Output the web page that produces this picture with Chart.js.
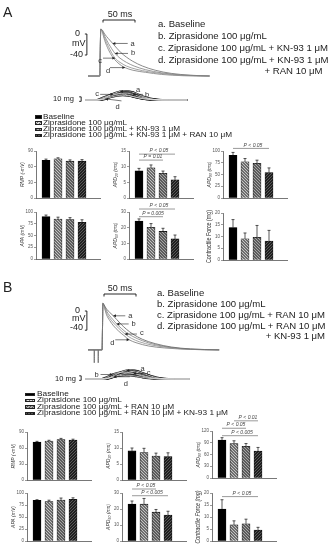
<!DOCTYPE html>
<html>
<head>
<meta charset="utf-8">
<script src="https://cdn.jsdelivr.net/npm/chart.js@4.4.1/dist/chart.umd.min.js"></script>
<style>
  body { margin: 0; background: #fff; font-family: "Liberation Sans", Arial, sans-serif; color: #222; }
  #fig { position: relative; width: 332px; height: 550px; overflow: hidden; filter: grayscale(1); }
  .t { position: absolute; white-space: nowrap; line-height: 1; will-change: transform; }
  .sw { position: absolute; box-sizing: border-box; border: 0.5px solid #222; }
  canvas { position: absolute; }
</style>
</head>
<body>
<div id="fig"></div>
<script>
/* ---- labels ---- */
const traceLegendA = ['a. Baseline', 'b. Ziprasidone 100 μg/mL', 'c. Ziprasidone 100 μg/mL + KN-93 1 μM',
  'd. Ziprasidone 100 μg/mL + KN-93 1 μM', '+ RAN 10 μM'];
const traceLegendB = ['a. Baseline', 'b. Ziprasidone 100 μg/mL', 'c. Ziprasidone 100 μg/mL + RAN 10 μM',
  'd. Ziprasidone 100 μg/mL + RAN 10 μM', '+ KN-93 1 μM'];
const barLegendA = ['Baseline', 'Ziprasidone 100 μg/mL', 'Ziprasidone 100 μg/mL + KN-93 1 μM',
  'Ziprasidone 100 μg/mL + KN-93 1 μM + RAN 10 μM'];
const barLegendB = ['Baseline', 'Ziprasidone 100 μg/mL', 'Ziprasidone 100 μg/mL + RAN 10 μM',
  'Ziprasidone 100 μg/mL + RAN 10 μM + KN-93 1 μM'];
const traceLetters = ['a', 'b', 'c', 'd'];

/* ---- bar data, panel A ---- */
const rmpA = [72, 75, 70.5, 70.5];       const rmpAErr = [2.5, 2, 2.5, 3];
const apd20A = [8.7, 9.6, 7.9, 5.8];     const apd20AErr = [0.75, 0.95, 0.7, 1.0];
const apd90A = [91, 77, 74, 54];         const apd90AErr = [6, 7, 6.5, 10];
const apaA = [90, 85, 84, 78];           const apaAErr = [3.5, 4, 4, 5.5];
const apd50A = [24.2, 20.2, 17.6, 12.8]; const apd50AErr = [1.4, 2.4, 2.0, 2.5];
const forceA = [13.8, 9.0, 9.7, 8.1];    const forceAErr = [3.4, 2.5, 5.0, 4.5];

/* ---- bar data, panel B ---- */
const rmpB = [71, 73, 76, 75];           const rmpBErr = [1.5, 1.5, 2, 1.5];
const apd20B = [9.1, 8.6, 7.5, 7.3];     const apd20BErr = [0.9, 1.3, 0.9, 1.2];
const apd90B = [97, 88, 81, 69];         const apd90BErr = [6, 7, 7, 9];
const apaB = [84.5, 82, 85.5, 87];       const apaBErr = [1.5, 3, 4, 3];
const apd50B = [23, 23, 18, 16.2];       const apd50BErr = [2, 3.6, 1.7, 2.4];
const forceB = [13.3, 6.7, 7.2, 4.6];    const forceBErr = [3.9, 1.7, 1.9, 1.1];

/* ---- action potential traces [ms, mV] ---- */
const apA_a = [[0,-80],[18.5,-80],[19,-40],[20,9],[22,8],[26,0],[32,-9],[38.6,-18],[45,-27],[52,-36],[60,-44],[70,-52],[85,-61],[105,-69],[130,-75],[160,-78.5],[190,-80]];
const apA_b = [[0,-80],[18.5,-80],[19,-40],[20,9],[22,7],[26,-4],[32,-18],[37,-28],[42.2,-37],[50,-46],[60,-54],[72,-61],[90,-68],[115,-74],[145,-78],[190,-80]];
const apA_c = [[0,-80],[18.5,-80],[19,-40],[20,9],[22,6],[26,-8],[32,-24],[37,-36],[42.2,-46],[50,-54],[60,-61],[75,-67],[95,-72],[120,-76],[150,-79],[190,-80]];
const apA_d = [[0,-80],[18.5,-80],[19,-40],[20,9],[22,5],[26,-12],[32,-30],[38,-43],[45,-53],[52,-60],[57.8,-64],[70,-69],[90,-73],[115,-77],[150,-79.5],[190,-80]];

const apB_a = [[0,-81],[9.7,-81],[9.8,-108],[10,-81],[15.9,-81],[16,-108],[16.2,-81],[22,-81],[22.6,-40],[23.3,16],[25,13],[29,4],[34,-3],[39.5,-10],[45,-18],[52,-28],[60,-38],[70,-48],[85,-59],[105,-68],[130,-75],[160,-79],[205,-81]];
const apB_b = [[0,-81],[22,-81],[22.6,-40],[23.3,16],[25,12],[29,0],[34,-10],[39,-18],[44.8,-27],[52,-36],[60,-45],[70,-53],[85,-62],[105,-70],[130,-76],[160,-79.5],[205,-81]];
const apB_c = [[0,-81],[22,-81],[22.6,-40],[23.3,16],[25,11],[29,-4],[34,-15],[40,-25],[48,-36],[57.8,-48],[68,-57],[80,-64],[100,-71],[125,-76],[160,-80],[205,-81]];
const apB_d = [[0,-81],[22,-81],[22.6,-40],[23.3,16],[25,10],[29,-8],[34,-20],[40,-31],[48,-42],[56,-51],[64.5,-60],[75,-66],[95,-73],[120,-77],[160,-80],[205,-81]];

/* ---- contraction traces [ms, mg] ---- */
const ctA_a = [[0,0],[20,0],[28,3],[37,9],[46,15],[55,19],[64,20],[73,18],[82,13],[92,7],[102,3],[114,0.5],[130,0],[160,0]];
const ctA_b = [[0,0],[22,0],[30,3],[39,8],[48,12.5],[57,15],[66,15],[75,12.5],[84,8],[94,4],[104,1.5],[118,0],[160,0]];
const ctA_c = [[0,0],[18,0],[26,4],[35,9],[44,12.5],[53,13.5],[62,12.5],[71,9.5],[80,6],[90,3],[102,1],[116,0],[160,0]];
const ctA_d = [[0,0],[23,0],[32,2.5],[41,6.5],[50,9.5],[59,10.5],[68,9.5],[77,7],[86,4],[96,2],[106,0.5],[118,0],[160,0]];

const ctB_a = [[0,0],[30,0],[38,3],[47,9],[56,15],[65,19],[74,19.5],[83,17],[92,12],[102,7],[112,3],[124,0.5],[140,0],[164,0]];
const ctB_b = [[0,0],[26,0],[34,4],[43,10],[52,14],[61,15],[70,14],[79,11],[88,7],[98,3.5],[108,1],[122,0],[164,0]];
const ctB_c = [[0,0],[32,0],[40,2.5],[49,7],[58,11],[67,13],[76,12.5],[85,10],[94,6.5],[104,3],[114,1],[128,0],[164,0]];
const ctB_d = [[0,0],[28,0],[36,2],[45,5],[54,7.5],[63,8.5],[72,8],[81,6],[90,3.5],[100,1.5],[110,0.3],[122,0],[164,0]];

Chart.defaults.font.family = '"Liberation Sans", Arial, sans-serif';
const fig = document.getElementById('fig');

function mkCanvas(l, t, w, h) {
    const c = document.createElement('canvas');
    c.width = w; c.height = h;
    c.style.cssText = `left:${l}px;top:${t}px;width:${w}px;height:${h}px`;
    fig.appendChild(c);
    return c;
}

function txt(s, x, y, size, align) {
    const d = document.createElement('div');
    d.className = 't';
    d.textContent = s;
    d.style.fontSize = size + 'px';
    d.style.top = (y - size * 0.5) + 'px';
    if (align === 'right') { d.style.right = (332 - x) + 'px'; d.style.transformOrigin = 'right center'; }
    else if (align === 'center') { d.style.left = x + 'px'; d.style.transform = 'translateX(-50%)'; }
    else { d.style.left = x + 'px'; d.style.transformOrigin = 'left center'; }
    fig.appendChild(d);
    return d;
}

// squeeze a group of lines so that the reference line gets the wanted width
function fitGroup(els, ref, width) {
    const s = width / ref.getBoundingClientRect().width;
    els.forEach(e => { e.style.transform = `scaleX(${s})`; });
}

/* ---- fills ---- */
function makePattern(bg, fg, dir) {
    const c = document.createElement('canvas');
    c.width = c.height = 3;
    const x = c.getContext('2d');
    x.fillStyle = bg; x.fillRect(0, 0, 3, 3);
    x.fillStyle = fg;
    for (let i = 0; i < 3; i++) x.fillRect(dir > 0 ? 2 - i : i, i, 1, 1);
    return x.createPattern(c, 'repeat');
}
const barFills = ['#000', makePattern('#6e6e6e', '#c4c4c4', -1), makePattern('#5c5c5c', '#a6a6a6', -1), makePattern('#202020', '#585858', 1)];
const swatchCss = ['#000',
    'repeating-linear-gradient(-45deg,#ddd 0 1px,#777 1px 2px)',
    'repeating-linear-gradient(-45deg,#aaa 0 1px,#555 1px 2px)',
    'repeating-linear-gradient(45deg,#555 0 1px,#1a1a1a 1px 2px)'];

function swatch(x, y, w, h, k) {
    const d = document.createElement('div');
    d.className = 'sw';
    d.style.cssText = `left:${x}px;top:${y - h / 2}px;width:${w}px;height:${h}px;background:${swatchCss[k]}`;
    fig.appendChild(d);
}

function arrow(ctx, x1, y1, x2, y2) {
    ctx.beginPath(); ctx.moveTo(x1, y1); ctx.lineTo(x2, y2); ctx.stroke();
    const a = Math.atan2(y2 - y1, x2 - x1), L = 3;
    ctx.beginPath();
    ctx.moveTo(x2, y2);
    ctx.lineTo(x2 - L * Math.cos(a - 0.5), y2 - L * Math.sin(a - 0.5));
    ctx.lineTo(x2 - L * Math.cos(a + 0.5), y2 - L * Math.sin(a + 0.5));
    ctx.closePath(); ctx.fill();
}

/* ---- bar chart with error bars + P brackets ---- */
function barChart(o) {
    const AXW = 18, PADT = 22, PADB = 10, LEN = 64;
    const cv = mkCanvas(o.x0 - AXW, o.yTop - PADT, AXW + LEN + 1, PADT + (o.yBot - o.yTop) + PADB);
    const overlay = {
        id: 'overlay',
        afterDraw(chart) {
            const ctx = chart.ctx, ys = chart.scales.y, area = chart.chartArea;
            const bars = chart.getDatasetMeta(0).data;
            ctx.save();
            ctx.strokeStyle = '#111'; ctx.lineWidth = 0.7;
            bars.forEach((b, i) => {
                const yt = ys.getPixelForValue(o.vals[i] + o.errs[i]);
                ctx.beginPath();
                ctx.moveTo(b.x, b.y); ctx.lineTo(b.x, yt);
                ctx.moveTo(b.x - 1.5, yt); ctx.lineTo(b.x + 1.5, yt);
                ctx.stroke();
            });
            ctx.strokeStyle = '#555'; ctx.lineWidth = 0.6; ctx.fillStyle = '#444';
            ctx.font = 'italic 5px "Liberation Sans"';
            ctx.textAlign = 'center'; ctx.textBaseline = 'bottom';
            (o.sig || []).forEach(s => {
                const y = ys.getPixelForValue(s[2]);
                const xa = bars[s[0]].x, xb = bars[s[1]].x;
                ctx.beginPath(); ctx.moveTo(xa, y); ctx.lineTo(xb, y); ctx.stroke();
                ctx.fillText(s[3], (xa + xb) / 2 + 2, y - 0.8);
            });
            ctx.translate(area.left - (o.titleOff || 13), (area.top + area.bottom) / 2);
            ctx.rotate(-Math.PI / 2);
            ctx.fillStyle = '#333';
            ctx.font = o.titleFont || 'italic 5px "Liberation Sans"';
            ctx.textBaseline = 'middle';
            if (o.titleLen) ctx.scale(o.titleLen / ctx.measureText(o.title).width, 1);
            ctx.fillText(o.title, 0, 0);
            ctx.restore();
        }
    };
    new Chart(cv, {
        type: 'bar',
        data: {
            datasets: [{
                data: o.vals.map((v, i) => ({ x: i + 1, y: v })),
                backgroundColor: barFills,
                borderColor: '#000',
                borderWidth: 0.6,
                barThickness: 8
            }]
        },
        options: {
            responsive: false, animation: false, events: [],
            layout: { padding: { top: PADT, bottom: PADB, left: 0, right: 1 } },
            plugins: { legend: { display: false }, tooltip: { enabled: false } },
            scales: {
                x: {
                    type: 'linear', min: 1 - 10 / 12, max: 1 - 10 / 12 + LEN / 12, offset: false,
                    grid: { display: false, offset: false }, ticks: { display: false },
                    border: { display: true, color: '#555', width: 0.8 },
                    afterFit: s => { s.height = 0; }
                },
                y: {
                    min: 0, max: o.max,
                    ticks: { stepSize: o.step, font: { size: 4.5 }, color: '#555', padding: 1 },
                    grid: { drawOnChartArea: false, tickLength: 2, color: '#555', lineWidth: 0.6 },
                    border: { display: true, color: '#555', width: 0.8 },
                    afterFit: s => { s.width = AXW; }
                }
            }
        },
        plugins: [overlay]
    });
}

/* ---- trace chart (AP or contraction) ---- */
function traceChart(o) {
    const cv = mkCanvas(o.left, o.top, o.w, o.h);
    const datasets = [], idx = [];
    o.traces.forEach((tr, k) => {
        const pts = tr.map(p => ({ x: p[0], y: p[1] }));
        if (o.outline) datasets.push({ data: pts, borderColor: o.outline, borderWidth: 2.1, order: 2 });
        idx.push(datasets.length);
        datasets.push({ data: pts, borderColor: o.colors[k], borderWidth: o.lw, order: 1 });
    });
    const marks = {
        id: 'marks',
        afterDraw(chart) {
            const ctx = chart.ctx, xs = chart.scales.x, ys = chart.scales.y;
            ctx.save();
            ctx.strokeStyle = '#111'; ctx.fillStyle = '#111'; ctx.lineWidth = 0.9;
            if (o.hbar) {
                const [t0, t1, v] = o.hbar;
                const a = xs.getPixelForValue(t0), b = xs.getPixelForValue(t1), y = ys.getPixelForValue(v);
                ctx.beginPath();
                ctx.moveTo(a, y + 2.5); ctx.lineTo(a, y); ctx.lineTo(b, y); ctx.lineTo(b, y + 2.5);
                ctx.stroke();
            }
            if (o.vbar) {
                const [t, v0, v1] = o.vbar;
                const x = xs.getPixelForValue(t), y0 = ys.getPixelForValue(v0), y1 = ys.getPixelForValue(v1);
                ctx.beginPath();
                ctx.moveTo(x - 2, y0); ctx.lineTo(x, y0); ctx.lineTo(x, y1); ctx.lineTo(x - 2, y1);
                ctx.stroke();
            }
            ctx.lineWidth = 0.6; ctx.strokeStyle = '#222'; ctx.fillStyle = '#222';
            ctx.font = '7.5px "Liberation Sans"';
            ctx.textAlign = 'center'; ctx.textBaseline = 'middle';
            o.arrows.forEach(ar => {
                const p = chart.getDatasetMeta(idx[ar.k]).data[ar.i];
                const tx = p.x + ar.dx, ty = p.y + (ar.dy || 0);
                arrow(ctx, tx, ty, p.x, p.y);
                ctx.fillStyle = '#333';
                ctx.fillText(traceLetters[ar.k], tx + ar.lx, ty + ar.ly);
                ctx.fillStyle = '#222';
            });
            ctx.restore();
        }
    };
    new Chart(cv, {
        type: 'line',
        data: { datasets },
        options: {
            responsive: false, animation: false, events: [],
            layout: { padding: 0 },
            elements: { point: { radius: 0 }, line: { cubicInterpolationMode: 'monotone', fill: false } },
            plugins: { legend: { display: false }, tooltip: { enabled: false } },
            scales: {
                x: { type: 'linear', display: false, min: o.xmin, max: o.xmax },
                y: { type: 'linear', display: false, min: o.ymin, max: o.ymax }
            }
        },
        plugins: [marks]
    });
}

/* ============ PANEL A ============ */
txt('A', 3, 12, 14);
txt('50 ms', 119.5, 14, 9, 'center');
txt('0', 80, 33, 9, 'right');
txt('mV', 85, 43, 9, 'right');
txt('-40', 83, 54, 9, 'right');
const legA = [24, 36, 48, 60].map((y, i) => txt(traceLegendA[i], 158, y, 9.5));
legA.push(txt(traceLegendA[4], 322, 71, 9.5, 'right'));
fitGroup(legA, legA[2], 170);
txt('10 mg', 53, 99, 7.5);

traceChart({
    left: 60, top: 8, w: 160, h: 75,
    xmin: (60 - 88) / 0.64, xmax: (220 - 88) / 0.64,
    ymin: (34 - 83) / 0.525, ymax: (34 - 8) / 0.525,
    traces: [apA_a, apA_b, apA_c, apA_d],
    colors: ['#7d7d7d', '#8c8c8c', '#999', '#8a8a8a'], lw: 0.9,
    hbar: [(103 - 88) / 0.64, (103 - 88) / 0.64 + 50, (34 - 20) / 0.525],
    vbar: [(86.5 - 88) / 0.64 + 0.6, 0, -40],
    arrows: [
        { k: 0, i: 7, dx: 15, lx: 5, ly: 0 },
        { k: 1, i: 8, dx: 13, lx: 5, ly: 0 },
        { k: 2, i: 8, dx: -12, lx: -3, ly: 3 },
        { k: 3, i: 10, dx: -15, lx: -2, ly: 3 }
    ]
});

traceChart({
    left: 75, top: 84, w: 120, h: 28,
    xmin: (75 - 85) / 0.64, xmax: (195 - 85) / 0.64,
    ymin: (100 - 112) / 0.45, ymax: (100 - 84) / 0.45,
    traces: [ctA_a, ctA_b, ctA_c, ctA_d],
    colors: ['#e6e6e6', '#d8d8d8', '#cfcfcf', '#e0e0e0'], lw: 0.8, outline: '#111',
    vbar: [-6, -3, 7],
    arrows: [
        { k: 0, i: 5, dx: 14, lx: 4, ly: -2 },
        { k: 1, i: 7, dx: 10, lx: 4, ly: 1 },
        { k: 2, i: 4, dx: -13, lx: -3, ly: 0 },
        { k: 3, i: 2, dx: 16, dy: 2, lx: -4, ly: 6 }
    ]
});

const barLegA = [117, 123.2, 129.4, 135.6].map((y, i) => {
    swatch(35, y, 7, 3.5, i);
    return txt(barLegendA[i], 43, y, 6.8);
});
fitGroup(barLegA, barLegA[3], 189);

barChart({ x0: 36, yTop: 151, yBot: 198, vals: rmpA, errs: rmpAErr, max: 90, step: 30, title: 'RMP (-mV)' });
barChart({ x0: 129, yTop: 151, yBot: 198, vals: apd20A, errs: apd20AErr, max: 15, step: 5, title: 'APD₂₀ (ms)',
    sig: [[0, 3, 14.0, 'P < 0.05'], [0, 2, 12.1, 'P = 0.01']] });
barChart({ x0: 223, yTop: 151, yBot: 198, vals: apd90A, errs: apd90AErr, max: 100, step: 25, title: 'APD₉₀ (ms)',
    sig: [[0, 3, 105.5, 'P < 0.05']] });
barChart({ x0: 36, yTop: 212, yBot: 259, vals: apaA, errs: apaAErr, max: 100, step: 25, title: 'APA (mV)' });
barChart({ x0: 129, yTop: 212, yBot: 259, vals: apd50A, errs: apd50AErr, max: 30, step: 10, title: 'APD₅₀ (ms)',
    sig: [[0, 3, 31.9, 'P < 0.05'], [0, 2, 27.0, 'P = 0.005']] });
barChart({ x0: 223, yTop: 213, yBot: 260, vals: forceA, errs: forceAErr, max: 20, step: 5, title: 'Contractile Force (mg)',
    titleFont: '7px "Liberation Sans"', titleOff: 14, titleLen: 53 });

/* ============ PANEL B ============ */
txt('B', 3, 287, 14);
txt('50 ms', 120, 288, 9, 'center');
txt('0', 80, 310, 9, 'right');
txt('mV', 85, 318.5, 9, 'right');
txt('-40', 83, 327.5, 9, 'right');
const legB = [293, 304, 315, 326].map((y, i) => txt(traceLegendB[i], 157, y, 9.5));
legB.push(txt(traceLegendB[4], 325, 336, 9.5, 'right'));
fitGroup(legB, legB[2], 168);
txt('10 mg', 55, 378.5, 7.5);

traceChart({
    left: 60, top: 285, w: 165, h: 85,
    xmin: (60 - 88) / 0.64, xmax: (225 - 88) / 0.64,
    ymin: (311 - 370) / 0.48, ymax: (311 - 285) / 0.48,
    traces: [apB_a, apB_b, apB_c, apB_d],
    colors: ['#6f6f6f', '#8c8c8c', '#9a9a9a', '#858585'], lw: 0.9,
    hbar: [(104 - 88) / 0.64, (104 - 88) / 0.64 + 50, (311 - 294) / 0.48],
    vbar: [(86.5 - 88) / 0.64 + 0.6, 0, -40],
    arrows: [
        { k: 0, i: 13, dx: 12, lx: 5, ly: 0 },
        { k: 1, i: 8, dx: 12, lx: 5, ly: 0 },
        { k: 2, i: 9, dx: 12, lx: 5, ly: -1 },
        { k: 3, i: 10, dx: -14, lx: -3, ly: 3 }
    ]
});

traceChart({
    left: 75, top: 360, w: 120, h: 30,
    xmin: (75 - 85) / 0.64, xmax: (195 - 85) / 0.64,
    ymin: (379 - 390) / 0.45, ymax: (379 - 360) / 0.45,
    traces: [ctB_a, ctB_b, ctB_c, ctB_d],
    colors: ['#e6e6e6', '#d8d8d8', '#cfcfcf', '#e0e0e0'], lw: 0.8, outline: '#111',
    vbar: [-6, -3, 7],
    arrows: [
        { k: 0, i: 5, dx: 12, lx: 4, ly: -2 },
        { k: 1, i: 3, dx: -12, lx: -4, ly: 0 },
        { k: 2, i: 6, dx: 11, lx: 4, ly: 0 },
        { k: 3, i: 3, dx: 16, lx: -4, ly: 7 }
    ]
});

const barLegB = [394.3, 400.7, 407, 413.3].map((y, i) => {
    swatch(25, y, 10, 3.5, i);
    return txt(barLegendB[i], 37, y, 6.8);
});
fitGroup(barLegB, barLegB[3], 191);

barChart({ x0: 27, yTop: 432, yBot: 480, vals: rmpB, errs: rmpBErr, max: 90, step: 30, title: 'RMP (-mV)' });
barChart({ x0: 122, yTop: 432, yBot: 480, vals: apd20B, errs: apd20BErr, max: 15, step: 5, title: 'APD₂₀ (ms)' });
barChart({ x0: 212, yTop: 431, yBot: 478, vals: apd90B, errs: apd90BErr, max: 120, step: 30, title: 'APD₉₀ (ms)',
    sig: [[1, 3, 146, 'P < 0.01'], [0, 2, 127, 'P < 0.05'], [0, 3, 108, 'P < 0.005']] });
barChart({ x0: 27, yTop: 493, yBot: 541, vals: apaB, errs: apaBErr, max: 100, step: 25, title: 'APA (mV)' });
barChart({ x0: 122, yTop: 493, yBot: 541, vals: apd50B, errs: apd50BErr, max: 30, step: 10, title: 'APD₅₀ (ms)',
    sig: [[0, 2, 32.5, 'P < 0.05'], [0, 3, 28.3, 'P < 0.005']] });
barChart({ x0: 212, yTop: 493, yBot: 541, vals: forceB, errs: forceBErr, max: 20, step: 5, title: 'Contractile Force (mg)',
    titleFont: 'italic 7px "Liberation Sans"', titleOff: 14, titleLen: 53, sig: [[0, 3, 18.5, 'P < 0.05']] });
</script>
</body>
</html>
